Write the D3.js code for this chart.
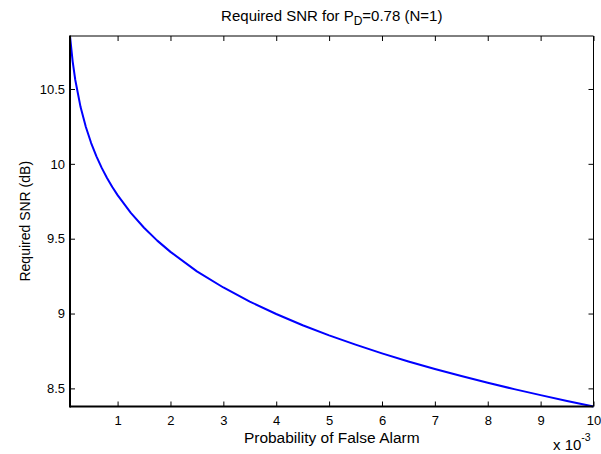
<!DOCTYPE html>
<html>
<head>
<meta charset="utf-8">
<script src="https://cdn.jsdelivr.net/npm/d3@7"></script>
<style>
  html, body { margin: 0; padding: 0; background: #fff; }
  svg { display: block; font-family: "Liberation Sans", Arial, sans-serif; }
</style>
</head>
<body>
<svg id="chart" width="601" height="454"></svg>
<script>
// Probability of false alarm (units of 1e-3)
const pfa = [0.1, 0.15, 0.2, 0.3, 0.4, 0.5, 0.6, 0.7, 0.8, 0.9, 1.0, 1.25, 1.5, 1.75,
             2, 2.5, 3, 3.5, 4, 4.5, 5, 5.5, 6, 6.5, 7, 7.5, 8, 8.5, 9, 9.5, 10];
// Required SNR (dB) for PD = 0.78, single pulse
const snr = [10.854, 10.685, 10.560, 10.379, 10.246, 10.139, 10.050, 9.973, 9.906, 9.845,
             9.791, 9.672, 9.573, 9.487, 9.412, 9.282, 9.174, 9.080, 8.997, 8.922,
             8.854, 8.792, 8.734, 8.680, 8.630, 8.583, 8.538, 8.495, 8.455, 8.416, 8.379];
const xTicks = [1, 2, 3, 4, 5, 6, 7, 8, 9, 10];
const yTicks = [8.5, 9, 9.5, 10, 10.5];

const svg = d3.select("#chart");
const plotL = 70, plotR = 593.5, plotT = 36, plotB = 406.5;

const x = d3.scaleLinear().domain(d3.extent(pfa)).range([plotL, plotR]);
const y = d3.scaleLinear().domain(d3.extent(snr)).range([plotB, plotT]);

const tickFs = "13px";

// Bottom axis with inward ticks
const gx = svg.append("g").attr("transform", `translate(0,${plotB})`)
  .call(d3.axisBottom(x).tickValues(xTicks).tickFormat(d3.format("d"))
    .tickSizeInner(-5).tickSizeOuter(0).tickPadding(9.5));
// Top axis ticks
const gxt = svg.append("g").attr("transform", `translate(0,${plotT})`)
  .call(d3.axisTop(x).tickValues(xTicks).tickFormat("")
    .tickSizeInner(-5).tickSizeOuter(0));
// Left axis
const gy = svg.append("g").attr("transform", `translate(${plotL},0)`)
  .call(d3.axisLeft(y).tickValues(yTicks).tickFormat(d => String(d))
    .tickSizeInner(-5).tickSizeOuter(0).tickPadding(5));
// Right axis ticks
const gyr = svg.append("g").attr("transform", `translate(${plotR},0)`)
  .call(d3.axisRight(y).tickValues(yTicks).tickFormat("")
    .tickSizeInner(-5).tickSizeOuter(0));

[gx, gxt, gy, gyr].forEach(g => {
  g.select(".domain").remove();
  g.selectAll(".tick line").attr("stroke", "#000").attr("stroke-width", 1);
  g.selectAll(".tick text").attr("fill", "#000").style("font-size", tickFs)
    .style("font-family", "'Liberation Sans', Arial, sans-serif");
});

// Data line
const line = d3.line().x((d, i) => x(pfa[i])).y(d => y(d));
svg.append("path").datum(snr)
  .attr("d", line)
  .attr("fill", "none")
  .attr("stroke", "#0000ff")
  .attr("stroke-width", 2)
  .attr("stroke-linejoin", "round");

// Axes box
svg.append("line").attr("x1", plotL).attr("x2", plotR).attr("y1", plotT).attr("y2", plotT)
  .attr("stroke", "#000").attr("stroke-width", 1);
svg.append("line").attr("x1", plotR).attr("x2", plotR).attr("y1", plotT).attr("y2", plotB)
  .attr("stroke", "#000").attr("stroke-width", 1);
svg.append("line").attr("x1", plotL).attr("x2", plotR).attr("y1", plotB).attr("y2", plotB)
  .attr("stroke", "#000").attr("stroke-width", 2);
svg.append("line").attr("x1", plotL).attr("x2", plotL).attr("y1", plotT - 0.5).attr("y2", plotB + 1)
  .attr("stroke", "#000").attr("stroke-width", 2);

// Title
const title = svg.append("text")
  .attr("x", (plotL + plotR) / 2).attr("y", 20.5)
  .attr("text-anchor", "middle").style("font-size", "15px").attr("fill", "#000");
title.append("tspan").text("Required SNR for P");
title.append("tspan").attr("dy", 4.5).style("font-size", "12px").text("D");
title.append("tspan").attr("dy", -4.5).text("=0.78 (N=1)");

// Axis labels
svg.append("text")
  .attr("x", (plotL + plotR) / 2).attr("y", 443)
  .attr("text-anchor", "middle").style("font-size", "15.5px").attr("fill", "#000")
  .text("Probability of False Alarm");

svg.append("text")
  .attr("transform", `translate(30,${(plotT + plotB) / 2}) rotate(-90)`)
  .attr("text-anchor", "middle").style("font-size", "14px").attr("fill", "#000")
  .text("Required SNR (dB)");

// Exponent label
const ex = svg.append("text")
  .attr("x", 553).attr("y", 450)
  .style("font-size", "15px").attr("fill", "#000");
ex.append("tspan").text("x 10");
ex.append("tspan").attr("dy", -9).style("font-size", "10.5px").text("-3");
</script>
</body>
</html>
